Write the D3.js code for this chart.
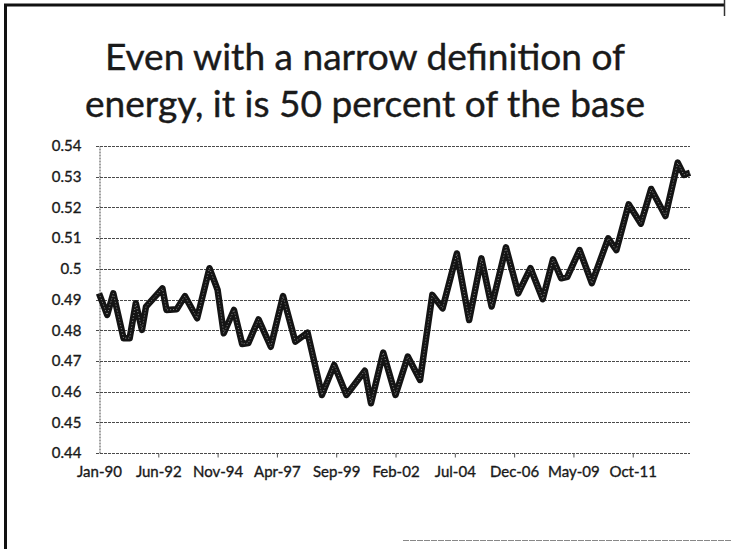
<!DOCTYPE html>
<html>
<head>
<meta charset="utf-8">
<script src="https://cdn.jsdelivr.net/npm/d3@7"></script>
<style>
  body { margin: 0; background: #fff; }
  svg { display: block; }
  text { font-family: Lato, "Open Sans", sans-serif; fill: #1a1a1a; }
</style>
</head>
<body>
<svg id="chart" width="731" height="549"></svg>
<script>
// month offsets from Jan-90 and the energy share
const pointMonth = [0, 4, 7, 12, 15, 18, 21, 23, 31, 33, 38, 42, 48, 54, 58, 61, 66, 70, 73, 78,
  84, 90, 96, 102, 109, 115, 121, 130, 133, 139, 145, 151, 157, 163, 168, 175, 181, 187, 192, 199,
  205, 211, 217, 222, 226, 229, 235, 241, 249, 253, 259, 265, 270, 277, 283, 286, 289]
const shareValues = [0.4920, 0.4850, 0.4920, 0.4774, 0.4774, 0.4888, 0.4801, 0.4877, 0.4936, 0.4866,
  0.4868, 0.4911, 0.4839, 0.5002, 0.4931, 0.4790, 0.4866, 0.4755, 0.4758, 0.4835,
  0.4746, 0.4911, 0.4763, 0.4792, 0.4589, 0.4687, 0.4589, 0.4668, 0.4562, 0.4727,
  0.4589, 0.4714, 0.4638, 0.4915, 0.4871, 0.5050, 0.4833, 0.5034, 0.4877, 0.5070,
  0.4920, 0.5002, 0.4901, 0.5031, 0.4969, 0.4974, 0.5061, 0.4953, 0.5099, 0.5061,
  0.5210, 0.5147, 0.5260, 0.5172, 0.5346, 0.5306, 0.5313]

const lastMonth = 289
const tickMonths = [0, 29, 58, 87, 116, 145, 174, 203, 232, 261]
const tickLabels = ['Jan-90', 'Jun-92', 'Nov-94', 'Apr-97', 'Sep-99', 'Feb-02', 'Jul-04', 'Dec-06', 'May-09', 'Oct-11']
const yTicks = [0.44, 0.45, 0.46, 0.47, 0.48, 0.49, 0.5, 0.51, 0.52, 0.53, 0.54]
const titleLines = ['Even with a narrow definition of', 'energy, it is 50 percent of the base']

const svg = d3.select('#chart')
const plot = {left: 99, right: 690, top: 146, bottom: 453}

// slide frame from the scan
svg.append('line').attr('x1', 5.5).attr('x2', 5.5).attr('y1', 4).attr('y2', 549)
  .attr('stroke', '#111').attr('stroke-width', 3)
svg.append('line').attr('x1', 4).attr('x2', 724).attr('y1', 5).attr('y2', 5)
  .attr('stroke', '#111').attr('stroke-width', 3)
svg.append('line').attr('x1', 724.5).attr('x2', 724.5).attr('y1', 0).attr('y2', 16)
  .attr('stroke', '#333').attr('stroke-width', 1.5)
svg.append('line').attr('x1', 403).attr('x2', 731).attr('y1', 540.5).attr('y2', 540.5)
  .attr('stroke', '#888').attr('stroke-width', 1).attr('stroke-dasharray', '6,1')

// title, sized so the long line is about 560px wide
const titleText = svg.append('g').selectAll('text').data(titleLines).join('text')
  .attr('x', 365).attr('y', (d, i) => 70 + i * 47)
  .attr('text-anchor', 'middle')
  .style('font-size', '36px')
  .style('stroke', '#1a1a1a').style('stroke-width', 0.4)
  .text(d => d)
const widest = titleText.nodes()[1].getComputedTextLength()
titleText.style('font-size', (36 * 560 / widest).toFixed(2) + 'px')

const x = d3.scaleLinear().domain([0, lastMonth]).range([plot.left, plot.right])
const y = d3.scaleLinear().domain([0.44, 0.54]).range([plot.bottom, plot.top])

// gridlines
svg.append('g').selectAll('line').data(yTicks).join('line')
  .attr('x1', plot.left - 3).attr('x2', plot.right)
  .attr('y1', d => Math.round(y(d)) + 0.5).attr('y2', d => Math.round(y(d)) + 0.5)
  .attr('stroke', '#4a4a4a').attr('stroke-width', 1).attr('stroke-dasharray', '3,1')

// y axis
const yAxis = svg.append('g').attr('transform', `translate(${plot.left + 0.5},0)`)
  .call(d3.axisLeft(y).tickValues(yTicks).tickSize(0).tickPadding(18).tickFormat(d3.format('')))
yAxis.select('.domain').attr('stroke', '#444').attr('stroke-dasharray', '2,1')
yAxis.selectAll('text').style('font-size', '15px').style('fill', '#1a1a1a')
  .style('stroke', '#1a1a1a').style('stroke-width', 0.35)

// x axis, labels every 29 months like the Excel category axis
const xAxis = svg.append('g').attr('transform', `translate(0,${Math.round(y(0.44)) + 0.5})`)
  .call(d3.axisBottom(x).tickValues(tickMonths).tickSize(4).tickPadding(9)
    .tickFormat((d, i) => tickLabels[i]))
xAxis.select('.domain').remove()
xAxis.selectAll('.tick line').attr('stroke', '#555').filter(d => d === 0).remove()
xAxis.selectAll('text').style('font-size', '15px').style('fill', '#1a1a1a')
  .style('stroke', '#1a1a1a').style('stroke-width', 0.35)

// the series
const points = pointMonth.map((m, i) => [m, shareValues[i]])
const line = d3.line().x(d => x(d[0])).y(d => y(d[1]))
svg.append('path').datum(points)
  .attr('d', line)
  .attr('fill', 'none')
  .attr('stroke', '#141414')
  .attr('stroke-width', 6.5)
  .attr('stroke-linejoin', 'round')
svg.append('path').datum(points)
  .attr('d', line)
  .attr('fill', 'none')
  .attr('stroke', '#8a8a8a')
  .attr('stroke-width', 1)
  .attr('stroke-dasharray', '1,2')
</script>
</body>
</html>
